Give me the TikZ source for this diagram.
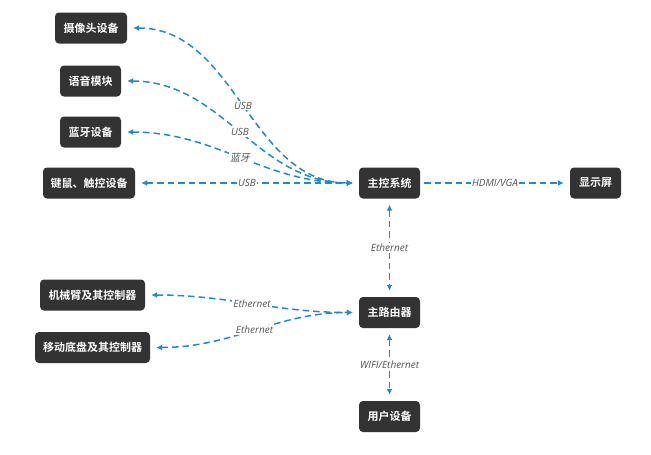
\documentclass[tikz,border=0pt]{standalone}
\usepackage{fontspec}
\setmainfont{Open Sans}
\newfontfamily\cjk{Noto Sans CJK SC}[BoldFont={Noto Sans CJK SC Bold}]
\newfontfamily\cjkit{Noto Sans CJK SC}[FakeSlant=0.2]
\usetikzlibrary{arrows.meta}
\definecolor{boxgray}{HTML}{333333}
\definecolor{linkblue}{HTML}{1E8AD2}
\definecolor{lblgray}{HTML}{555555}
\begin{document}
\begin{tikzpicture}[x=1pt,y=-1pt,
  box/.style={fill=boxgray, rounded corners=4pt, text=white,
    font=\cjk\bfseries\fontsize{11}{13}\selectfont, minimum height=31pt, inner sep=0pt},
  link/.style={draw=linkblue, line width=1.5pt, dash pattern=on 6.5pt off 4pt,
    -{Latex[length=6pt,width=6pt]}, shorten >=6pt},
  both/.style={link, {Latex[length=6pt,width=6pt]}-{Latex[length=6pt,width=6pt]}, shorten <=6pt},
  lbl/.style={fill=white, inner sep=1pt, text=lblgray, font=\itshape\fontsize{10}{12}\selectfont}]
\useasboundingbox (0,0) rectangle (651,455);
\node[box, minimum width=72pt] (cam) at (91,28) {摄像头设备};
\node[box, minimum width=61pt] (voice) at (90.5,81) {语音模块};
\node[box, minimum width=61pt] (bt) at (90.5,132) {蓝牙设备};
\node[box, minimum width=92pt] (kb) at (89,183) {键鼠、触控设备};
\node[box, minimum width=61pt] (main) at (389.5,183) {主控系统};
\node[box, minimum width=51pt] (disp) at (595.5,183) {显示屏};
\node[box, minimum width=105pt] (arm) at (92.5,295) {机械臂及其控制器};
\node[box, minimum width=61pt] (router) at (389.5,312.5) {主路由器};
\node[box, minimum width=115pt] (base) at (92.5,347.5) {移动底盘及其控制器};
\node[box, minimum width=61pt] (user) at (389.5,416.5) {用户设备};

\draw[both] (cam.east) to[out=0,in=180] node[lbl]{USB} (main.west);
\draw[both] (voice.east) to[out=0,in=180] node[lbl]{USB} (main.west);
\draw[both] (bt.east) to[out=0,in=180] node[lbl,font=\cjkit\fontsize{10}{12}\selectfont]{蓝牙} (main.west);
\draw[both] (kb.east) -- node[lbl]{USB} (main.west);
\draw[link, shorten <=4pt] (main.east) -- node[lbl]{HDMI/VGA} (disp.west);
\draw[both] (main.south) -- node[lbl]{Ethernet} (router.north);
\draw[both] (arm.east) to[out=0,in=180] node[lbl]{Ethernet} (router.west);
\draw[both] (base.east) to[out=0,in=180] node[lbl]{Ethernet} (router.west);
\draw[both] (router.south) -- node[lbl]{WIFI/Ethernet} (user.north);
\end{tikzpicture}
\end{document}
